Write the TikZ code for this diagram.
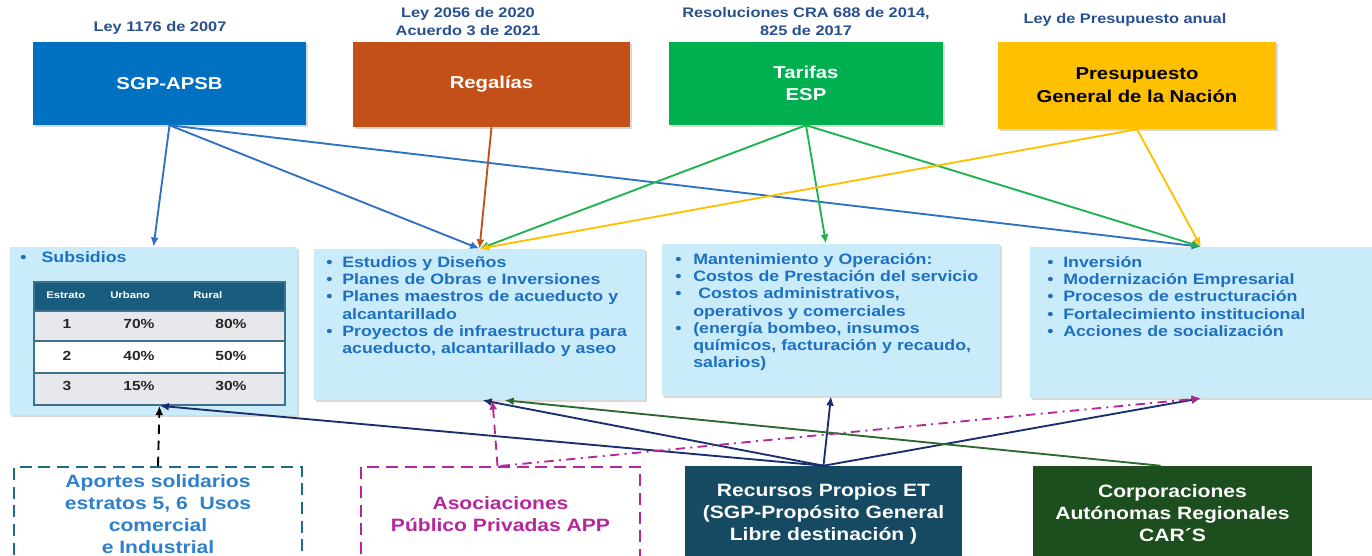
\documentclass[tikz,border=0pt]{standalone}
\usepackage{fontspec}
\setmainfont{Liberation Sans}[FakeStretch=1.18]
\usetikzlibrary{arrows.meta,calc,shadows}

\newlength{\pxu}
\setlength{\pxu}{0.75pt}

\definecolor{sgpblue}{HTML}{0070C0}
\definecolor{regorange}{HTML}{C25018}
\definecolor{targreen}{HTML}{00B050}
\definecolor{pgnyellow}{HTML}{FFC000}
\definecolor{lawblue}{HTML}{27508F}
\definecolor{midfill}{HTML}{C9EBFA}
\definecolor{itemblue}{HTML}{1E70C0}
\definecolor{tabhead}{HTML}{1A5C7E}
\definecolor{tabgrey}{HTML}{E6E8EB}
\definecolor{tabline}{HTML}{3C7190}
\definecolor{apoteal}{HTML}{1F6A85}
\definecolor{apoblue}{HTML}{2F80CC}
\definecolor{asomag}{HTML}{B5289B}
\definecolor{recteal}{HTML}{154A62}
\definecolor{corgreen}{HTML}{1D4E1D}
\definecolor{sgparrow}{HTML}{2F72C4}
\definecolor{tararrow}{HTML}{1DB34F}
\definecolor{recarrow}{HTML}{1A2E6E}
\definecolor{corarrow}{HTML}{2D6A2D}

% item con vineta
\newcommand\itm[2][12pt]{\par\hangindent=#1\hangafter=1\noindent\makebox[#1][l]{\textbullet}#2}

\tikzset{
  boxshadow/.style={drop shadow={shadow xshift=1.5pt, shadow yshift=-1.5pt, opacity=0.3}},
  topbox/.style={rectangle, inner sep=0pt, align=center, boxshadow,
    font=\bfseries\fontsize{12.9}{17}\selectfont},
  lawlabel/.style={inner sep=0pt, align=center, text=lawblue,
    font=\bfseries\fontsize{10.4}{13.5}\selectfont},
  midbox/.style={rectangle, fill=midfill, inner sep=0pt, boxshadow},
  listtext/.style={inner sep=0pt, anchor=north west, text=itemblue,
    font=\bfseries\fontsize{11.3}{12.9}\selectfont},
  headtext/.style={inner sep=0pt, anchor=west, text=white, font=\bfseries\fontsize{7.2}{8}\selectfont},
  celltext/.style={inner sep=0pt, text=black!85, font=\bfseries\fontsize{9.9}{11}\selectfont},
  dashbox/.style={rectangle, line width=1.6pt, dash pattern=on 9pt off 5pt, fill=white,
    inner sep=0pt, align=center, font=\bfseries\fontsize{13.4}{16.5}\selectfont},
  solidbox/.style={rectangle, inner sep=0pt, align=center, text=white,
    font=\bfseries\fontsize{13.4}{16.5}\selectfont},
  feed/.style={-{Latex[length=7pt,width=6pt]}, line width=1.4pt},
  longdash/.style={dash pattern=on 7pt off 5pt},
  longdashdot/.style={dash pattern=on 7pt off 4pt on 1.5pt off 4pt},
}

\begin{document}
\begin{tikzpicture}[x=0.75pt,y=-0.75pt]
	\useasboundingbox (0,0) rectangle (1372,556);
	\clip (0,0) rectangle (1372,556);
	
	% normas
	\node[lawlabel] (lsgp) at (160,28) {Ley 1176 de 2007};
	\node[lawlabel] (lreg) at (468,22) {Ley 2056 de 2020\\Acuerdo 3 de 2021};
	\node[lawlabel] (ltar) at (806,22) {Resoluciones CRA 688 de 2014,\\825 de 2017};
	\node[lawlabel] (lpgn) at (1125,20) {Ley de Presupuesto anual};
	
	% fuentes
	\node[topbox, fill=sgpblue, text=white, minimum width=273\pxu, minimum height=83\pxu] (sgp) at (169.5,83.5) {SGP-APSB};
	\node[topbox, fill=regorange, text=white, minimum width=277\pxu, minimum height=85\pxu] (reg) at (491.5,84.5) {Regalías};
	\node[topbox, fill=targreen, text=white, minimum width=274\pxu, minimum height=83\pxu] (tar) at (806,83.5) {Tarifas\\ESP};
	\node[topbox, fill=pgnyellow, text=black, minimum width=278\pxu, minimum height=87\pxu] (pgn) at (1137,85.5) {Presupuesto\\General de la Nación};
	
	% usos
	\node[midbox, minimum width=287\pxu, minimum height=168\pxu] (sub) at (153.5,331) {};
	\node[midbox, minimum width=331\pxu, minimum height=151\pxu] (est) at (479.5,324.5) {};
	\node[midbox, minimum width=338\pxu, minimum height=152\pxu] (man) at (831,320) {};
	\node[midbox, minimum width=342\pxu, minimum height=151\pxu] (inv) at (1201,322.5) {};
	
	\node[listtext] (sublist) at (20,251) {\itm[16pt]{Subsidios}};
	\node[listtext, text width=320\pxu] (estlist) at (326,250) {\itm{Estudios y Diseños}\itm{Planes de Obras e Inversiones}\itm{Planes maestros de acueducto y\newline alcantarillado}\itm{Proyectos de infraestructura para\newline acueducto, alcantarillado y aseo}\par};
	\node[listtext, text width=330\pxu] (manlist) at (675,247) {\itm[13.5pt]{Mantenimiento y Operación:}\itm[13.5pt]{Costos de Prestación del servicio}\itm[13.5pt]{\ Costos administrativos,\newline operativos y comerciales}\itm[13.5pt]{(energía bombeo, insumos\newline químicos, facturación y recaudo,\newline salarios)}\par};
	\node[listtext, text width=320\pxu] (invlist) at (1047,250) {\itm{Inversión}\itm{Modernización Empresarial}\itm{Procesos de estructuración}\itm{Fortalecimiento institucional}\itm{Acciones de socialización}\par};
	
	% tabla de subsidios
	\fill[tabhead] (34,282) rectangle (285,311);
	\fill[tabgrey] (34,311) rectangle (285,341);
	\fill[white] (34,341) rectangle (285,373);
	\fill[tabgrey] (34,373) rectangle (285,405);
	\draw[tabline, line width=1pt] (34,311) -- (285,311) (34,341) -- (285,341) (34,373) -- (285,373);
	\node[draw=tabline, line width=1.2pt, inner sep=0pt, minimum width=251\pxu, minimum height=123\pxu] (tab) at (159.5,343.5) {};
	\node[headtext] (hest) at (46,295) {Estrato};
	\node[headtext] (hurb) at (110,295) {Urbano};
	\node[headtext] (hrur) at (193,295) {Rural};
	\foreach \r/\y/\u/\v in {1/324/70/80, 2/356/40/50, 3/386/15/30} {
		\node[celltext] (e\r) at (67,\y) {\r};
		\node[celltext] (u\r) at (139,\y) {\u\%};
		\node[celltext] (v\r) at (231,\y) {\v\%};
	}
	
	% otras fuentes
	\node[dashbox, draw=apoteal, text=apoblue, minimum width=288\pxu, minimum height=95\pxu] (apo) at (158,514.5) {Aportes solidarios\\estratos 5, 6~ Usos\\comercial\\e Industrial};
	\node[dashbox, draw=asomag, text=asomag, minimum width=279\pxu, minimum height=95\pxu] (aso) at (500.5,514.5) {Asociaciones\\Público Privadas APP};
	\node[solidbox, fill=recteal, minimum width=277\pxu, minimum height=95\pxu] (rec) at (823.5,513.5) {Recursos Propios ET\\(SGP-Propósito General\\Libre destinación )};
	\node[solidbox, fill=corgreen, minimum width=279\pxu, minimum height=95\pxu] (cor) at (1172.5,513.5) {Corporaciones\\Autónomas Regionales\\CAR´S};
	
	% flujos
	\draw[feed, sgparrow] (sgp.south) -- (sub.north);
	\draw[feed, sgparrow] (sgp.south) -- (est.north);
	\draw[feed, sgparrow] (sgp.south) -- (inv.north);
	\draw[feed, regorange] (reg.south) -- (est.north);
	\draw[feed, tararrow] (tar.south) -- (est.north);
	\draw[feed, tararrow] (tar.south) -- ($(man.north)+(-5,0)$);
	\draw[feed, tararrow] (tar.south) -- (inv.north);
	\draw[feed, pgnyellow] (pgn.south) -- (inv.north);
	\draw[feed, pgnyellow] (pgn.south) -- (est.north);
	
	\draw[feed, recarrow] (rec.north) -- (tab.south);
	\draw[feed, recarrow] (rec.north) -- ($(est.south)+(3,0)$);
	\draw[feed, recarrow] (rec.north) -- (man.south);
	\draw[feed, recarrow] (rec.north) -- (inv.south);
	\draw[feed, corarrow] ($(cor.north)+(-12,0)$) -- ($(est.south)+(25,0)$);
	\draw[feed, black, longdash] (apo.north) -- (tab.south);
	\draw[feed, asomag, longdash] ($(aso.north)+(-3,0)$) -- ($(est.south)+(13,0)$);
	\draw[feed, asomag, longdashdot] (aso.north) -- (inv.south);
\end{tikzpicture}
\end{document}
